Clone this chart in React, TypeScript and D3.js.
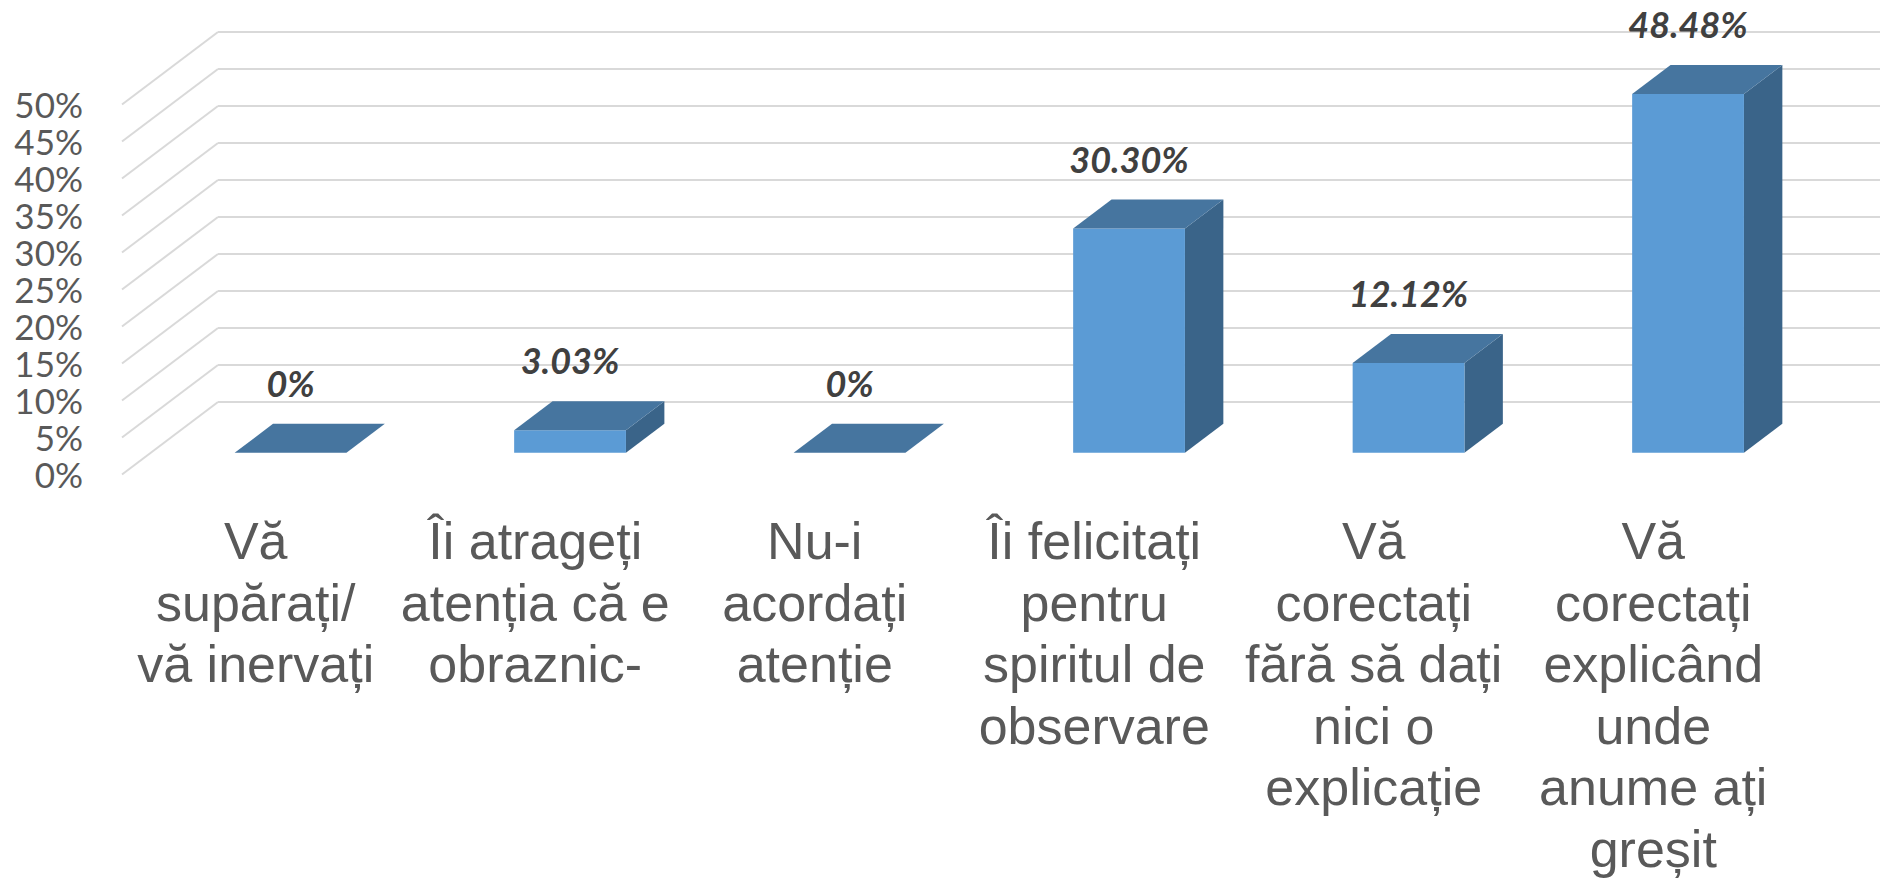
import React from "react";
import * as d3 from "d3";

const categories = [
  "Vă\nsupărați/\nvă inervați",
  "Îi atrageți\natenția că e\nobraznic-",
  "Nu-i\nacordați\natenție",
  "Îi felicitați\npentru\nspiritul de\nobservare",
  "Vă\ncorectați\nfără să dați\nnici o\nexplicație",
  "Vă\ncorectați\nexplicând\nunde\nanume ați\ngreșit",
];
const values = [0, 3.03, 0, 30.3, 12.12, 48.48];
const valueLabels = ["0%", "3.03%", "0%", "30.30%", "12.12%", "48.48%"];
const yTicks = [0, 5, 10, 15, 20, 25, 30, 35, 40, 45, 50];
const yTickLabels = ["0%", "5%", "10%", "15%", "20%", "25%", "30%", "35%", "40%", "45%", "50%"];

const W = 1880;
const H = 879;
const backX0 = 218;
const bandW = 279.5;
const depthDx = -96;
const depthDy = 72.5;
const dz0 = 0.3;
const dz1 = 0.7;

const FRONT = "#5B9BD5";
const TOP = "#46759F";
const SIDE = "#3A6489";

export default function App() {
  const x = d3
    .scaleBand<string>()
    .domain(categories)
    .range([backX0, backX0 + categories.length * bandW])
    .paddingInner(0.6)
    .paddingOuter(0.3);
  const y = d3.scaleLinear().domain([0, 50]).range([402, 32]);
  const bw = x.bandwidth();

  const P = (xb: number, v: number, dz: number): [number, number] => [xb + dz * depthDx, y(v) + dz * depthDy];
  const poly = (pts: [number, number][]) => pts.map((p) => p.join(",")).join(" ");

  return (
    <svg
      width={W}
      height={H}
      style={{ position: "absolute", left: 0, top: 0, background: "#fff" }}
    >
      <rect x={0} y={0} width={W} height={H} fill="#fff" />
      {yTicks.map((t) => (
        <g key={t}>
          <line x1={backX0} x2={W} y1={y(t)} y2={y(t)} stroke="#D9D9D9" strokeWidth={2} />
          <line
            x1={backX0 + depthDx}
            y1={y(t) + depthDy}
            x2={backX0}
            y2={y(t)}
            stroke="#D9D9D9"
            strokeWidth={2}
          />
        </g>
      ))}
      {yTicks.map((t, i) => (
        <text
          key={"tl" + t}
          x={83}
          y={y(t) + depthDy + 13}
          textAnchor="end"
          fontFamily="Lato, 'Open Sans', sans-serif"
          fontSize={35}
          fill="#595959"
        >
          {yTickLabels[i]}
        </text>
      ))}
      {categories.map((c, i) => {
        const v = values[i];
        const xl = x(c)!;
        const xr = xl + bw;
        const front = [P(xl, v, dz1), P(xr, v, dz1), P(xr, 0, dz1), P(xl, 0, dz1)];
        const top = [P(xl, v, dz1), P(xr, v, dz1), P(xr, v, dz0), P(xl, v, dz0)];
        const side = [P(xr, v, dz1), P(xr, v, dz0), P(xr, 0, dz0), P(xr, 0, dz1)];
        const [fx] = P(xl + bw / 2, v, dz1);
        const [, ty] = P(xl, v, dz0);
        return (
          <g key={"bar" + i}>
            {v > 0 && <polygon points={poly(side)} fill={SIDE} />}
            {v > 0 && <polygon points={poly(front)} fill={FRONT} />}
            <polygon points={poly(top)} fill={TOP} />
            <text
              x={fx}
              y={ty - 27}
              textAnchor="middle"
              fontFamily="Lato, 'Open Sans', sans-serif"
              fontWeight="bold"
              fontStyle="italic"
              fontSize={36}
              fill="#404040"
            >
              {valueLabels[i]}
            </text>
          </g>
        );
      })}
      {categories.map((c, i) => {
        const cx = x(c)! + bw / 2 + depthDx - 6;
        return (
          <text
            key={"cat" + i}
            textAnchor="middle"
            fontFamily="'Liberation Sans', Arial, sans-serif"
            fontSize={52}
            fill="#595959"
          >
            {c.split("\n").map((line, j) => (
              <tspan key={j} x={cx} y={559 + j * 61.6}>
                {line}
              </tspan>
            ))}
          </text>
        );
      })}
    </svg>
  );
}
